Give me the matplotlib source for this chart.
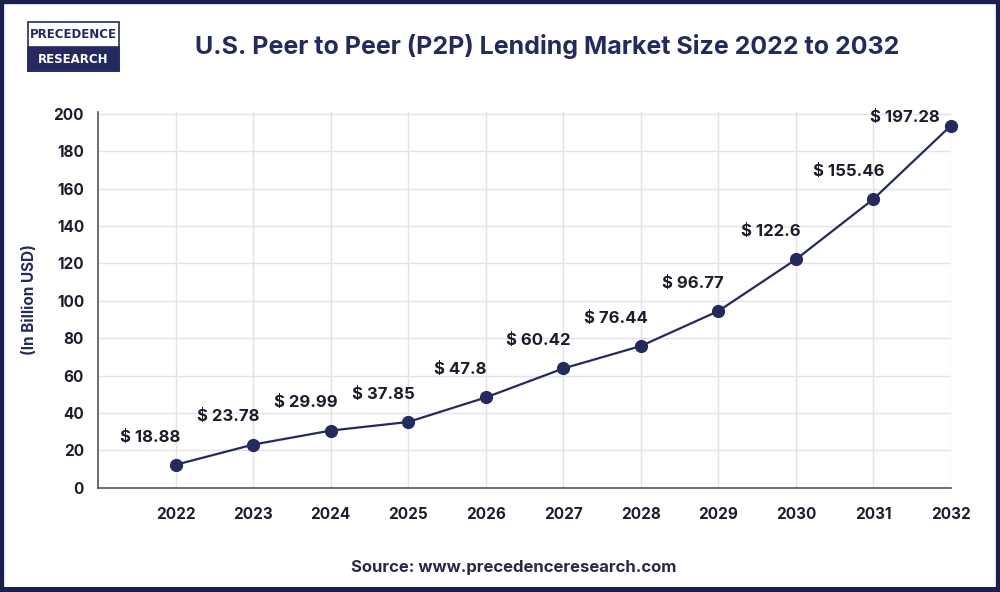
import matplotlib.pyplot as plt
from matplotlib.patches import Rectangle

# data
years = [2022, 2023, 2024, 2025, 2026, 2027, 2028, 2029, 2030, 2031, 2032]
label_values = [18.88, 23.78, 29.99, 37.85, 47.8, 60.42, 76.44, 96.77, 122.6, 155.46, 197.28]
# the markers in the picture sit a bit off the printed values
point_values = [12.3, 23.1, 30.6, 35.2, 48.3, 63.8, 75.8, 94.5, 122.1, 154.4, 193.7]
y_ticks = list(range(0, 201, 20))

navy = '#252a5e'
text_dark = '#1c1c2c'

plt.rcParams['font.family'] = ['Inter', 'DejaVu Sans']

fig = plt.figure(figsize=(10, 5.92), dpi=100)
ax = fig.add_axes([0.098, 0.176, 0.853, 0.635])

ax.plot(years, point_values, color=navy, lw=1.6, marker='o', ms=8.5, zorder=3,
        clip_on=False)

for i, (yr, pv, lv) in enumerate(zip(years, point_values, label_values)):
    dx, dy = -18, 20
    if i == len(years) - 1:
        dx, dy = -33, 6
    ax.annotate(f'$ {lv:g}', (yr, pv), xytext=(dx, dy), textcoords='offset points',
                ha='center', va='center', fontsize=12, fontweight='bold',
                color=text_dark)

ax.set_xlim(2021, 2032)
ax.set_ylim(0, 201)
ax.set_xticks(years)
ax.set_yticks(y_ticks)
ax.grid(True, color='#e2e2ea', lw=1)
ax.set_axisbelow(True)
for s in ['top', 'right']:
    ax.spines[s].set_visible(False)
for s in ['left', 'bottom']:
    ax.spines[s].set_color('#555555')
    ax.spines[s].set_linewidth(1.2)
ax.tick_params(length=0, labelsize=11, pad=10, labelcolor=text_dark)
ax.tick_params(axis='x', pad=14)
for lab in ax.get_xticklabels() + ax.get_yticklabels():
    lab.set_fontweight('bold')
ax.set_ylabel('(In Billion USD)', fontsize=11, fontweight='bold', color=navy, labelpad=12)

fig.text(0.547, 0.922, 'U.S. Peer to Peer (P2P) Lending Market Size 2022 to 2032',
         ha='center', va='center', fontsize=18, fontweight='bold', color=navy)
fig.text(0.514, 0.042, 'Source: www.precedenceresearch.com', ha='center', va='center',
         fontsize=12, fontweight='bold', color='#2a2a48')

# logo
fig.patches.append(Rectangle((0.028, 0.880), 0.091, 0.082, transform=fig.transFigure,
                             facecolor='white', edgecolor=navy, lw=1.2))
fig.patches.append(Rectangle((0.028, 0.880), 0.091, 0.041, transform=fig.transFigure,
                             facecolor=navy, edgecolor=navy, lw=1.2))
fig.text(0.0735, 0.942, 'PRECEDENCE', ha='center', va='center', fontsize=8.5,
         fontweight='bold', color=navy, family='DejaVu Sans')
fig.text(0.0735, 0.900, 'RESEARCH', ha='center', va='center', fontsize=8.5,
         fontweight='bold', color='white', family='DejaVu Sans')

# frame
fig.patches.append(Rectangle((0, 0), 1, 1, transform=fig.transFigure, fill=False,
                             edgecolor='#1b1f4e', lw=6))
fig.patches.append(Rectangle((0, 0), 1, 0.009, transform=fig.transFigure,
                             facecolor='#1b1f4e', edgecolor='none'))

fig.savefig('out.png', dpi=100)
